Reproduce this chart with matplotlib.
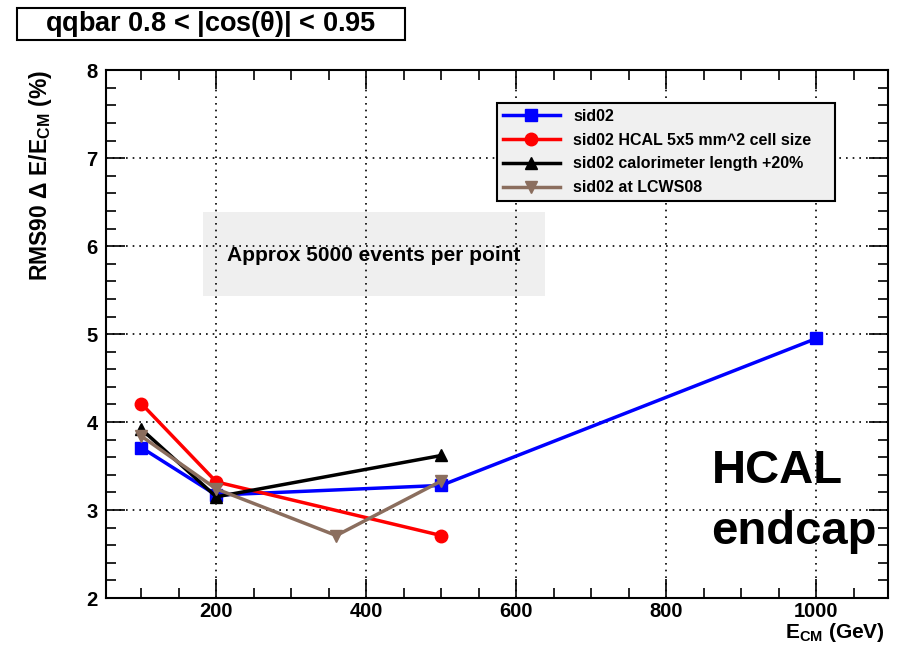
import matplotlib.pyplot as plt
from matplotlib.patches import Rectangle
from matplotlib.ticker import MultipleLocator

plt.rcParams['font.family'] = ['Liberation Sans', 'DejaVu Sans']
plt.rcParams['font.weight'] = 'bold'
plt.rcParams['mathtext.fontset'] = 'custom'
plt.rcParams['mathtext.rm'] = 'Liberation Sans:bold'
plt.rcParams['mathtext.it'] = 'Liberation Sans:bold'
plt.rcParams['mathtext.bf'] = 'Liberation Sans:bold'

# data
sid02_e = [100, 200, 500, 1000]
sid02_res = [3.71, 3.17, 3.28, 4.95]
hcal5_e = [100, 200, 500]
hcal5_res = [4.21, 3.32, 2.71]
callen_e = [100, 200, 500]
callen_res = [3.92, 3.15, 3.62]
lcws_e = [100, 200, 360, 500]
lcws_res = [3.84, 3.24, 2.71, 3.33]

labels = ['sid02', 'sid02 HCAL 5x5 mm^2 cell size',
          'sid02 calorimeter length +20%', 'sid02 at LCWS08']

fig = plt.figure(figsize=(8.99, 6.5), dpi=100)
ax = fig.add_axes([0.118, 0.080, 0.870, 0.812])

ax.plot(sid02_e, sid02_res, color='#0000ff', lw=2.5, marker='s', ms=9)
ax.plot(hcal5_e, hcal5_res, color='#ff0000', lw=2.5, marker='o', ms=9)
ax.plot(callen_e, callen_res, color='black', lw=2.5, marker='^', ms=8)
ax.plot(lcws_e, lcws_res, color='#8b6e5e', lw=2.5, marker='v', ms=9)

ax.set_xlim(53, 1096)
ax.set_ylim(2, 8)
ax.xaxis.set_major_locator(MultipleLocator(200))
ax.xaxis.set_minor_locator(MultipleLocator(50))
ax.yaxis.set_major_locator(MultipleLocator(1))
ax.yaxis.set_minor_locator(MultipleLocator(0.2))
ax.tick_params(which='both', direction='in', top=True, right=True, labelsize=14.5, width=1.2)
ax.tick_params(which='major', length=14)
ax.tick_params(which='minor', length=7)
ax.tick_params(axis='x', pad=3)
ax.tick_params(axis='y', pad=6)
for s in ax.spines.values():
    s.set_linewidth(1.5)
ax.grid(True, which='major', linestyle=(0, (1, 3)), color='black', lw=1.2)

fig.text(41 / 899, 1 - 70 / 650, r'RMS90 $\Delta$ E/E$_{\rm CM}$ (%)', rotation=90,
         ha='center', va='top', fontsize=16.5)
fig.text(885 / 899, 1 - 633 / 650, r'E$_{\rm CM}$ (GeV)', ha='right', va='center', fontsize=15)

# pad the widest entry so the frame keeps the extra room on the right
leg_labels = [l + '    ' if i == 1 else l for i, l in enumerate(labels)]
leg = ax.legend(ax.get_lines(), leg_labels, loc='upper left', bbox_to_anchor=(0.5, 0.9375),
                fontsize=11.5, frameon=True, fancybox=False, edgecolor='black',
                facecolor='#f0f0f0', framealpha=1, handlelength=3.6, borderpad=0.35,
                labelspacing=0.55, borderaxespad=0)
leg.get_frame().set_linewidth(1.5)

ax.add_patch(Rectangle((0.124, 0.573), 0.437, 0.158, transform=ax.transAxes,
                       facecolor='#efefef', edgecolor='none', zorder=1.5))
ax.text(0.342, 0.648, 'Approx 5000 events per point', transform=ax.transAxes,
        ha='center', va='center', fontsize=15, zorder=3)

ax.text(0.774, 0.24, 'HCAL', transform=ax.transAxes, fontsize=34, ha='left', va='center')
ax.text(0.774, 0.125, 'endcap', transform=ax.transAxes, fontsize=34, ha='left', va='center')

fig.patches.append(Rectangle((17 / 899, 1 - 40 / 650), 388 / 899, 32 / 650,
                             transform=fig.transFigure, facecolor='white',
                             edgecolor='black', lw=1.5))
fig.text(211 / 899, 1 - 24 / 650, r'qqbar 0.8 < |cos($\theta$)| < 0.95',
         ha='center', va='center', fontsize=19.5)

fig.savefig('out.png', dpi=100)
